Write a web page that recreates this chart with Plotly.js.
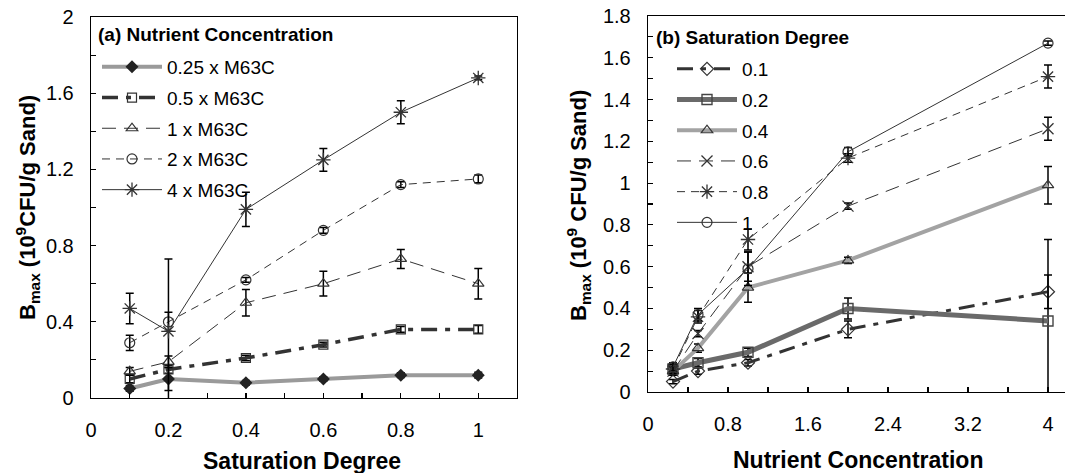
<!DOCTYPE html>
<html>
<head>
<meta charset="utf-8">
<script src="https://cdn.plot.ly/plotly-3.0.1.min.js"></script>
<style>html,body{margin:0;padding:0;background:#fff;}#chart{width:1065px;height:473px;}</style>
</head>
<body>
<div id="chart"></div>
<script>
// ---- Panel (a): x = saturation degree ----
const satDeg = [0.1, 0.2, 0.4, 0.6, 0.8, 1.0];
const a025 = [0.05, 0.10, 0.08, 0.10, 0.12, 0.12];
const a025Err = [0.015, 0.06, 0.012, 0.012, 0.012, 0.015];
const a05 = [0.10, 0.15, 0.21, 0.28, 0.36, 0.36];
const a05Err = [0.02, 0.02, 0.015, 0.012, 0.015, 0.02];
const a1 = [0.14, 0.19, 0.50, 0.60, 0.73, 0.60];
const a1Err = [0.02, 0.03, 0.07, 0.065, 0.05, 0.08];
const a2 = [0.29, 0.40, 0.62, 0.88, 1.12, 1.15];
const a2Err = [0.04, 0.05, 0.012, 0.015, 0.015, 0.02];
const a4 = [0.47, 0.35, 0.99, 1.25, 1.50, 1.68];
const a4Err = [0.08, 0.38, 0.09, 0.06, 0.06, 0.01];
const aNames = ["0.25 x M63C", "0.5 x M63C", "1 x M63C", "2 x M63C", "4 x M63C"];

// ---- Panel (b): x = nutrient concentration ----
const conc = [0.25, 0.5, 1, 2, 4];
const b01 = [0.05, 0.10, 0.14, 0.30, 0.48];
const b01Err = [0.01, 0.015, 0.015, 0.04, 0.08];
const b02 = [0.11, 0.14, 0.19, 0.40, 0.34];
const b02Err = [0.02, 0.02, 0.02, 0.05, 0.39];
const b04 = [0.10, 0.21, 0.50, 0.63, 0.99];
const b04Err = [0.02, 0.02, 0.07, 0.015, 0.09];
const b06 = [0.10, 0.28, 0.60, 0.89, 1.26];
const b06Err = [0.02, 0.015, 0.07, 0.015, 0.055];
const b08 = [0.11, 0.36, 0.73, 1.12, 1.51];
const b08Err = [0.02, 0.03, 0.05, 0.02, 0.055];
const b1 = [0.12, 0.37, 0.59, 1.15, 1.67];
const b1Err = [0.02, 0.03, 0.08, 0.02, 0.01];
const bNames = ["0.1", "0.2", "0.4", "0.6", "0.8", "1"];

const legendTitleA = "(a) Nutrient Concentration";
const legendTitleB = "(b) Saturation Degree";

const FONT = "Liberation Sans, Arial, sans-serif";

function err(arr) {
  return {type: 'data', array: arr, visible: true, color: '#000', thickness: 1.5, width: 4};
}
function tr(x, y, e, name, xa, ya, leg, line, marker) {
  return {
    x: x, y: y, name: name, type: 'scatter', mode: 'lines+markers',
    xaxis: xa, yaxis: ya, legend: leg, legendgroup: leg + name,
    line: line, marker: marker, error_y: err(e)
  };
}
const dark = '#333333';
const traces = [
  tr(satDeg, a025, a025Err, aNames[0], 'x', 'y', 'legend',
     {color: '#9a9a9a', width: 4},
     {symbol: 'diamond', size: 10, color: '#222'}),
  tr(satDeg, a05, a05Err, aNames[1], 'x', 'y', 'legend',
     {color: dark, width: 3.5, dash: '16px,8px,5px,8px'},
     {symbol: 'square-open', size: 9, color: dark, line: {width: 1.2}}),
  tr(satDeg, a1, a1Err, aNames[2], 'x', 'y', 'legend',
     {color: dark, width: 1, dash: '14px,8px'},
     {symbol: 'triangle-up-open', size: 10, color: dark, line: {width: 1.2}}),
  tr(satDeg, a2, a2Err, aNames[3], 'x', 'y', 'legend',
     {color: dark, width: 1, dash: '8px,6px'},
     {symbol: 'circle-open', size: 10, color: dark, line: {width: 1.2}}),
  tr(satDeg, a4, a4Err, aNames[4], 'x', 'y', 'legend',
     {color: dark, width: 1},
     {symbol: 'asterisk-open', size: 12, color: dark, line: {width: 1.3}}),

  tr(conc, b01, b01Err, bNames[0], 'x2', 'y2', 'legend2',
     {color: dark, width: 3, dash: '16px,8px,5px,8px'},
     {symbol: 'diamond-open', size: 10, color: dark, line: {width: 1.2}}),
  tr(conc, b02, b02Err, bNames[1], 'x2', 'y2', 'legend2',
     {color: '#6a6a6a', width: 5},
     {symbol: 'square-open', size: 10, color: '#444', line: {width: 1.4}}),
  tr(conc, b04, b04Err, bNames[2], 'x2', 'y2', 'legend2',
     {color: '#a3a3a3', width: 4},
     {symbol: 'triangle-up-open', size: 10, color: dark, line: {width: 1.2}}),
  tr(conc, b06, b06Err, bNames[3], 'x2', 'y2', 'legend2',
     {color: dark, width: 1, dash: '14px,8px'},
     {symbol: 'x-thin-open', size: 11, color: dark, line: {width: 1.3}}),
  tr(conc, b08, b08Err, bNames[4], 'x2', 'y2', 'legend2',
     {color: dark, width: 1, dash: '8px,6px'},
     {symbol: 'asterisk-open', size: 12, color: dark, line: {width: 1.3}}),
  tr(conc, b1, b1Err, bNames[5], 'x2', 'y2', 'legend2',
     {color: dark, width: 1},
     {symbol: 'circle-open', size: 10, color: dark, line: {width: 1.2}})
];

const tickFont = {family: FONT, size: 20, color: '#000'};
function axis(extra) {
  return Object.assign({
    showgrid: false, zeroline: false, showline: true, mirror: true,
    linecolor: '#000', linewidth: 1.3, ticks: 'inside', ticklen: 5,
    tickcolor: '#000', tickwidth: 1.2, tickfont: tickFont
  }, extra);
}
function legendBox(xpx, ytop) {
  return {
    x: xpx/1065, y: 1 - ytop/473, xanchor: 'left', yanchor: 'top',
    bgcolor: 'rgba(0,0,0,0)', borderwidth: 0,
    font: {family: FONT, size: 19, color: '#000'},
    traceorder: 'grouped', tracegroupgap: 3, itemwidth: 60
  };
}

const layout = {
  width: 1065, height: 473,
  margin: {l: 0, r: 0, t: 0, b: 0},
  paper_bgcolor: '#fff', plot_bgcolor: '#fff',
  font: {family: FONT, color: '#000'},
  xaxis: axis({domain: [91/1065, 517/1065], range: [0, 1.1], anchor: 'y',
               tickvals: [0, 0.2, 0.4, 0.6, 0.8, 1], ticklabelstandoff: 14,
               minor: {dtick: 0.1, tick0: 0, ticks: 'inside', ticklen: 5, tickcolor: '#000', showgrid: false}}),
  yaxis: axis({domain: [1 - 398/473, 1 - 17/473], range: [0, 2], anchor: 'x',
               tickvals: [0, 0.4, 0.8, 1.2, 1.6, 2], ticklabelstandoff: 12,
               minor: {dtick: 0.2, tick0: 0, ticks: 'inside', ticklen: 5, tickcolor: '#000', showgrid: false}}),
  xaxis2: axis({domain: [648/1065, 1], range: [0, 4.17], anchor: 'y2',
                tickvals: [0, 0.8, 1.6, 2.4, 3.2, 4], ticklabelstandoff: 14,
                minor: {dtick: 0.4, tick0: 0, ticks: 'inside', ticklen: 5, tickcolor: '#000', showgrid: false}}),
  yaxis2: axis({domain: [1 - 392/473, 1 - 16/473], range: [0, 1.8], anchor: 'x2',
                tickvals: [0, 0.2, 0.4, 0.6, 0.8, 1, 1.2, 1.4, 1.6, 1.8], ticklabelstandoff: 12,
                minor: {dtick: 0.1, tick0: 0, ticks: 'inside', ticklen: 5, tickcolor: '#000', showgrid: false}}),
  legend: legendBox(97, 48),
  legend2: legendBox(672, 50),
  annotations: [
    {text: '<b>' + legendTitleA + '</b>', xref: 'paper', yref: 'paper', x: 96/1065, y: 1 - 35/473,
     xanchor: 'left', yanchor: 'middle', showarrow: false, font: {family: FONT, size: 19, color: '#000'}},
    {text: '<b>' + legendTitleB + '</b>', xref: 'paper', yref: 'paper', x: 654/1065, y: 1 - 37/473,
     xanchor: 'left', yanchor: 'middle', showarrow: false, font: {family: FONT, size: 19, color: '#000'}},
    {text: '<b>Saturation Degree</b>', xref: 'paper', yref: 'paper', x: 302/1065, y: 1 - 461/473,
     xanchor: 'center', yanchor: 'middle', showarrow: false, font: {family: FONT, size: 23, color: '#000'}},
    {text: '<b>Nutrient Concentration</b>', xref: 'paper', yref: 'paper', x: 858/1065, y: 1 - 460/473,
     xanchor: 'center', yanchor: 'middle', showarrow: false, font: {family: FONT, size: 23, color: '#000'}},
    {text: '<b>B<sub>max</sub> (10<sup>9</sup>CFU/g Sand)</b>', xref: 'paper', yref: 'paper', x: 27/1065, y: 1 - 208/473,
     xanchor: 'center', yanchor: 'middle', textangle: -90, showarrow: false, font: {family: FONT, size: 22, color: '#000'}},
    {text: '<b>B<sub>max</sub> (10<sup>9</sup> CFU/g Sand)</b>', xref: 'paper', yref: 'paper', x: 578/1065, y: 1 - 206/473,
     xanchor: 'center', yanchor: 'middle', textangle: -90, showarrow: false, font: {family: FONT, size: 22, color: '#000'}}
  ],
  showlegend: true
};

Plotly.newPlot('chart', traces, layout, {staticPlot: true, displayModeBar: false});
</script>
</body>
</html>
